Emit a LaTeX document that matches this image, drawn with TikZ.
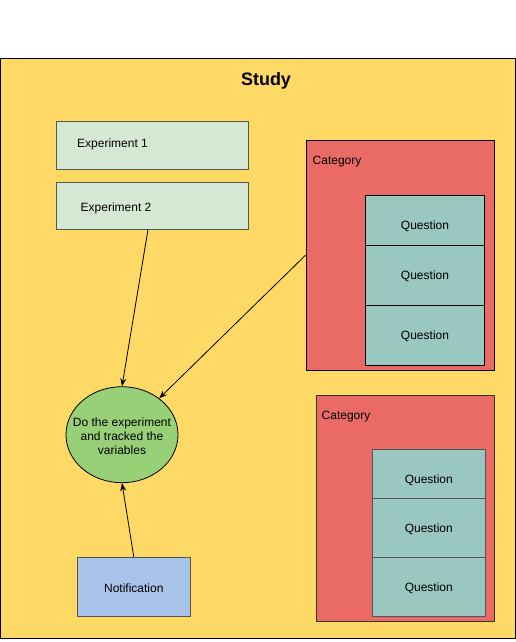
\documentclass[tikz,border=0pt]{standalone}
\usepackage{fontspec}
\setmainfont{Liberation Sans}
\usetikzlibrary{shapes.geometric,arrows.meta}
\definecolor{studyfill}{HTML}{FFD966}
\definecolor{expfill}{HTML}{D5E8D4}
\definecolor{catfill}{HTML}{EA6B66}
\definecolor{qfill}{HTML}{9AC7BF}
\definecolor{ellfill}{HTML}{97D077}
\definecolor{notfill}{HTML}{A9C4EB}
\definecolor{greyline}{HTML}{555555}
\tikzset{
  boxstyle/.style={rectangle, inner sep=0pt, line width=1pt},
  expbox/.style={boxstyle, draw=greyline, fill=expfill, minimum width=192pt, minimum height=48pt},
  catbox/.style={boxstyle, draw=black, fill=catfill},
  qbox/.style={boxstyle, fill=qfill, minimum width=119pt, font=\fontsize{12}{14}\selectfont},
  lbl/.style={inner sep=0pt, font=\fontsize{12}{14}\selectfont},
  conn/.style={line width=0.8pt, -{Stealth[length=8pt,width=6pt]}}
}
\begin{document}
\begin{tikzpicture}[x=1pt,y=-1pt]
\useasboundingbox (0,0) rectangle (516,642);
% outer study container
\node[boxstyle, draw=black, fill=studyfill, minimum width=515pt, minimum height=580pt] (study) at (258,348.5) {};
\node[inner sep=0pt, font=\fontsize{18}{20}\selectfont\bfseries] (studyt) at (266,80.5) {Study};
% experiments
\node[expbox] (exp1) at (152.3,145.5) {};
\node[lbl, anchor=west] (exp1t) at (77,144.5) {Experiment 1};
\node[expbox, minimum height=47pt] (exp2) at (152.3,206) {};
\node[lbl, anchor=west] (exp2t) at (80.5,208) {Experiment 2};
% category 1
\node[catbox, minimum width=188pt, minimum height=230pt] (cat1) at (400,255.2) {};
\node[lbl, anchor=west] (cat1t) at (312.5,161.5) {Category};
\node[qbox, draw=black, minimum height=50pt] (q11) at (425,220.3) {};
\node[lbl] (q11t) at (425,226.5) {Question};
\node[qbox, draw=black, minimum height=60pt] (q12) at (425,275.3) {};
\node[lbl] (q12t) at (425,276.3) {Question};
\node[qbox, draw=black, minimum height=60pt] (q13) at (425,335.3) {};
\node[lbl] (q13t) at (425,336.3) {Question};
% category 2
\node[catbox, draw=greyline!60!black, minimum width=178pt, minimum height=226pt] (cat2) at (405.2,508.5) {};
\node[lbl, anchor=west] (cat2t) at (321.5,416.5) {Category};
\node[qbox, draw=greyline, minimum width=113pt, minimum height=49pt] (q21) at (428.8,474.2) {};
\node[lbl] (q21t) at (428.8,480.5) {Question};
\node[qbox, draw=greyline, minimum width=113pt, minimum height=59pt] (q22) at (428.8,528.2) {};
\node[lbl] (q22t) at (428.8,529) {Question};
\node[qbox, draw=greyline, minimum width=113pt, minimum height=59pt] (q23) at (428.8,587.4) {};
\node[lbl] (q23t) at (428.8,588.5) {Question};
% ellipse
\node[ellipse, draw=black, line width=0.8pt, fill=ellfill, minimum width=112pt, minimum height=96pt, inner sep=0pt] (ell) at (122,434.7) {};
\node[lbl, align=center] (ellt) at (122,436) {Do the experiment\\and tracked the\\variables};
% notification
\node[boxstyle, draw=greyline, fill=notfill, minimum width=113pt, minimum height=59.5pt] (notif) at (133.8,587.2) {};
\node[lbl] (notift) at (133.8,588) {Notification};
% connectors
\coordinate (e2out) at (148,229.5);
\draw[conn] (e2out) -- (ell.north);
\draw[conn] (cat1.west) -- (ell);
\draw[conn] (notif.north) -- (ell.south);
\end{tikzpicture}
\end{document}
